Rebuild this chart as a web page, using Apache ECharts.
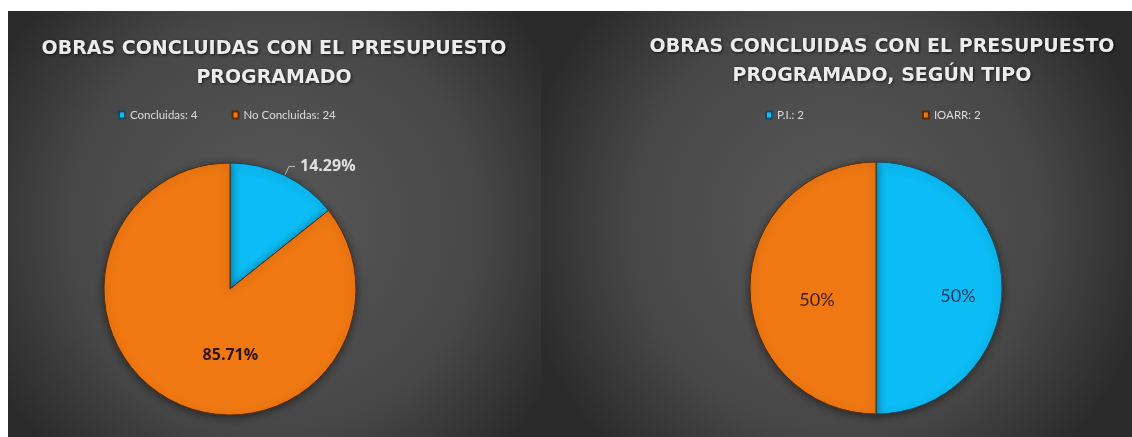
<!DOCTYPE html>
<html>
<head>
<meta charset="utf-8">
<script src="https://cdn.jsdelivr.net/npm/echarts@6/dist/echarts.min.js"></script>
<style>
  html, body { margin: 0; padding: 0; background: #ffffff; }
  #chart { width: 1132px; height: 437px; }
</style>
</head>
<body>
<div id="chart"></div>
<script>
// left chart: obras concluidas vs no concluidas
const leftNames = ['Concluidas', 'No Concluidas']
const leftValues = [4, 24]
// right chart: concluidas segun tipo
const rightNames = ['P.I.', 'IOARR']
const rightValues = [2, 2]

const titleLeft = 'OBRAS CONCLUIDAS CON EL PRESUPUESTO\nPROGRAMADO'
const titleRight = 'OBRAS CONCLUIDAS CON EL PRESUPUESTO\nPROGRAMADO, SEGÚN TIPO'

const BLUE = '#0cbcf4'
const ORANGE = '#f07812'

const chart = echarts.init(document.getElementById('chart'))

function panelBg(x, w) {
  return {
    type: 'rect',
    shape: { x: x, y: 11, width: w, height: 426 },
    style: {
      fill: {
        type: 'radial', x: 0.5, y: 0.5, r: 0.75,
        colorStops: [
          { offset: 0, color: '#585858' },
          { offset: 0.65, color: '#474747' },
          { offset: 1, color: '#2b2b2b' },
        ],
      },
    },
    silent: true,
    z: -10,
  }
}

const titleStyle = {
  color: '#ececec',
  fontFamily: 'DejaVu Sans',
  fontWeight: 'bold',
  fontSize: 19,
  lineHeight: 29,
  textShadowColor: 'rgba(0,0,0,0.7)',
  textShadowBlur: 3,
  textShadowOffsetX: 1,
  textShadowOffsetY: 1,
}

const legendText = { color: '#dcdcdc', fontFamily: 'Lato', fontSize: 11.5 }

function valueOf(names, values, name) {
  return values[names.indexOf(name)]
}

function pieData(names, values) {
  return names.map((n, i) => ({
    name: n,
    value: values[i],
    itemStyle: {
      color: i === 0 ? BLUE : ORANGE,
      borderColor: i === 0 ? '#134a63' : '#5a2a05',
    },
  }))
}

const leftData = pieData(leftNames, leftValues)
leftData[0].label = {
  position: 'outside',
  color: '#e0e0e0',
  fontWeight: 'bold',
  fontSize: 16,
  fontFamily: 'Open Sans',
}
leftData[0].labelLine = { show: true, length: 10, length2: 6, lineStyle: { color: '#bdbdbd', width: 1 } }
leftData[1].label = {
  position: 'inside',
  color: '#2b1404',
  fontWeight: 'bold',
  fontSize: 16,
  fontFamily: 'Open Sans',
  offset: [29, 7],
}

const rightData = pieData(rightNames, rightValues)
rightData[0].label = { position: 'inside', color: '#16365c', fontSize: 18, fontFamily: 'Lato', offset: [16, 8] }
rightData[1].label = { position: 'inside', color: '#3a1c06', fontSize: 18, fontFamily: 'Lato', offset: [7, 12] }

const pieBase = {
  type: 'pie',
  radius: 126,
  startAngle: 90,
  clockwise: true,
  avoidLabelOverlap: false,
  emphasis: { disabled: true },
  itemStyle: {
    borderWidth: 1,
    shadowColor: 'rgba(0,0,0,0.45)',
    shadowBlur: 8,
    shadowOffsetY: 2,
  },
}

chart.setOption({
  animation: false,
  backgroundColor: '#ffffff',
  graphic: [panelBg(8, 533), panelBg(541, 591)],
  title: [
    { text: titleLeft, left: 269, top: 30, textAlign: 'center', textStyle: titleStyle },
    { text: titleRight, left: 877, top: 28, textAlign: 'center', textStyle: titleStyle },
  ],
  legend: [
    {
      data: leftNames,
      left: 113,
      top: 104,
      itemWidth: 6,
      itemHeight: 7,
      itemGap: 34,
      icon: 'rect',
      textStyle: legendText,
      formatter: (n) => n + ': ' + valueOf(leftNames, leftValues, n),
    },
    {
      data: rightNames,
      left: 760,
      top: 104,
      itemWidth: 6,
      itemHeight: 7,
      itemGap: 118,
      icon: 'rect',
      textStyle: legendText,
      formatter: (n) => n + ': ' + valueOf(rightNames, rightValues, n),
    },
  ],
  series: [
    Object.assign({}, pieBase, {
      center: [230, 289],
      label: { formatter: (p) => p.percent.toFixed(2) + '%' },
      data: leftData,
    }),
    Object.assign({}, pieBase, {
      center: [876, 288],
      label: { formatter: (p) => Math.round(p.percent) + '%' },
      data: rightData,
    }),
  ],
})
</script>
</body>
</html>
